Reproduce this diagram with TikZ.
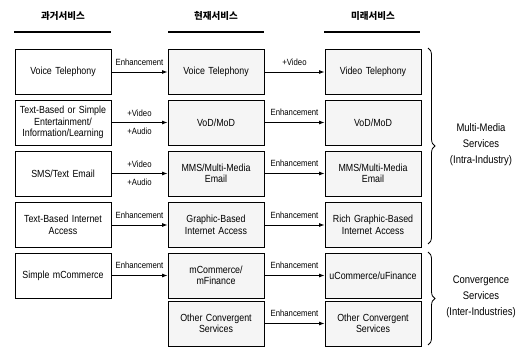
\documentclass[tikz,border=0pt]{standalone}
\usepackage{fontspec}
\setmainfont{Liberation Sans}[FakeStretch=0.86]
\newfontfamily\hangul{Noto Sans CJK KR}
\usetikzlibrary{arrows.meta,decorations.pathreplacing}

\begin{document}
\begin{tikzpicture}
  [x=1pt,y=-1pt,
   oldbox/.style={draw, line width=0.9pt, minimum width=96pt, minimum height=45pt,
                  text width=92pt, inner sep=0pt, align=center,
                  font=\fontsize{10.3}{11.5}\selectfont},
   newbox/.style={oldbox, fill=black!4},
   arr/.style={->, >={Latex[length=5.5pt,width=4pt]}, line width=0.9pt},
   lbl/.style={font=\fontsize{9}{10}\selectfont, inner sep=1pt},
   head/.style={font=\hangul\bfseries\fontsize{9.5}{11}\selectfont},
   rule/.style={line width=1.2pt},
   grp/.style={align=center, font=\fontsize{11}{16}\selectfont},
   brc/.style={decorate, decoration={brace, amplitude=7pt}, line width=0.8pt}]

  \newcommand{\colA}{63}
  \newcommand{\colB}{216}
  \newcommand{\colC}{373}

  \useasboundingbox (0,0) rectangle (521,347);

  % headers
  \node[head] (h1) at (\colA,16) {과거서비스};
  \node[head] (h2) at (\colB,16) {현재서비스};
  \node[head] (h3) at (\colC,16) {미래서비스};
  \draw[rule] (\colA-49,32) -- (\colA+48,32);
  \draw[rule] (\colB-48,32) -- (\colB+48,32);
  \draw[rule] (\colC-49,32) -- (\colC+47,32);

  % past
  \node[oldbox] (p1) at (\colA,72)    {Voice Telephony};
  \node[oldbox] (p2) at (\colA,122.5) {Text-Based or Simple\\Entertainment/\\Information/Learning};
  \node[oldbox] (p3) at (\colA,173.5) {SMS/Text Email};
  \node[oldbox] (p4) at (\colA,225)   {Text-Based Internet\\Access};
  \node[oldbox] (p5) at (\colA,275.5) {Simple mCommerce};

  % present
  \node[newbox] (c1) at (\colB,72)    {Voice Telephony};
  \node[newbox] (c2) at (\colB,122.5) {VoD/MoD};
  \node[newbox] (c3) at (\colB,173.5) {MMS/Multi-Media\\Email};
  \node[newbox] (c4) at (\colB,225)   {Graphic-Based\\Internet Access};
  \node[newbox] (c5) at (\colB,275.5) {mCommerce/\\mFinance};
  \node[newbox] (c6) at (\colB,323.5) {Other Convergent\\Services};

  % future
  \node[newbox] (f1) at (\colC,72)    {Video Telephony};
  \node[newbox] (f2) at (\colC,122.5) {VoD/MoD};
  \node[newbox] (f3) at (\colC,173.5) {MMS/Multi-Media\\Email};
  \node[newbox] (f4) at (\colC,225)   {Rich Graphic-Based\\Internet Access};
  \node[newbox] (f5) at (\colC,275.5) {uCommerce/uFinance};
  \node[newbox] (f6) at (\colC,323.5) {Other Convergent\\Services};

  \draw[arr] (p1) -- (c1) node[lbl, midway, above=5pt] {Enhancement};
  \draw[arr] (p2) -- (c2) node[lbl, midway, above=4pt] {+Video} node[lbl, midway, below=4pt] {+Audio};
  \draw[arr] (p3) -- (c3) node[lbl, midway, above=4pt] {+Video} node[lbl, midway, below=4pt] {+Audio};
  \draw[arr] (p4) -- (c4) node[lbl, midway, above=5pt] {Enhancement};
  \draw[arr] (p5) -- (c5) node[lbl, midway, above=5pt] {Enhancement};

  \draw[arr] (c1) -- (f1) node[lbl, midway, above=5pt] {+Video};
  \draw[arr] (c2) -- (f2) node[lbl, midway, above=5pt] {Enhancement};
  \draw[arr] (c3) -- (f3) node[lbl, midway, above=5pt] {Enhancement};
  \draw[arr] (c4) -- (f4) node[lbl, midway, above=5pt] {Enhancement};
  \draw[arr] (c5) -- (f5) node[lbl, midway, above=5pt] {Enhancement};
  \draw[arr] (c6) -- (f6) node[lbl, midway, above=5pt] {Enhancement};

  % groups
  \coordinate (b1) at (428,48);
  \coordinate (b2) at (428,244);
  \coordinate (b3) at (428,252);
  \coordinate (b4) at (428,345);
  \draw[brc] (b1) -- (b2);
  \draw[brc] (b3) -- (b4);
  \node[grp] (g1) at (481,145) {Multi-Media\\Services\\(Intra-Industry)};
  \node[grp] (g2) at (481,297) {Convergence\\Services\\(Inter-Industries)};

\end{tikzpicture}
\end{document}
